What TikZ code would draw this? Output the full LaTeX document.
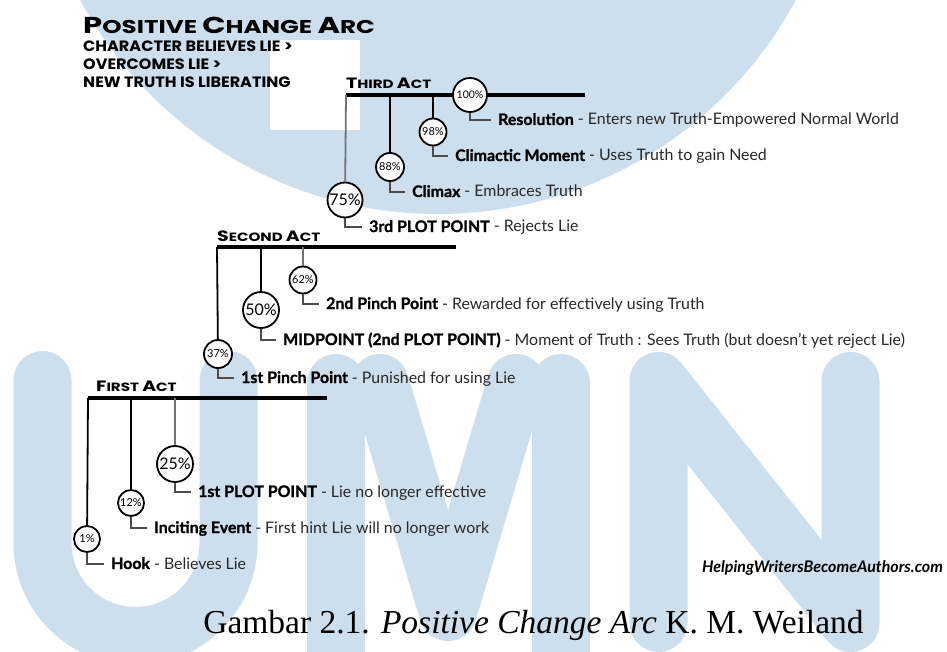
\documentclass[tikz,border=0pt]{standalone}
\usepackage{fontspec}
\setmainfont{Lato}[BoldFeatures={FakeBold=1.2}]
\newfontfamily\capsfont{Poppins}[FakeStretch=1.07]
\newfontfamily\widefont{Poppins}[FakeStretch=1.33]
\newfontfamily\actfont{Poppins}[FakeStretch=1.26]
\newfontfamily\captionfont{Liberation Serif}
\usepackage{xcolor}
\usepackage{tikz}
\usetikzlibrary{positioning}

\definecolor{umnblue}{RGB}{205,222,237}
\definecolor{desc}{RGB}{40,40,40}

% small caps faked with two sizes
\newcommand{\titlecap}[2]{{\fontsize{23}{23}\selectfont #1}#2}
\newcommand{\actcap}[2]{{\fontsize{15}{15}\selectfont #1}#2}
\newcommand{\beat}[2]{{\color{black}\bfseries #1} - #2}

\begin{document}
\begin{tikzpicture}[x=1pt, y=-1pt,
  wmline/.style={draw=umnblue, line width=58pt, line cap=round, line join=round},
  pct/.style={draw, circle, line width=1.8pt, fill=white, inner sep=0pt, font=\fontsize{11}{11}\selectfont},
  bigpct/.style={pct, font=\fontsize{16}{16}\selectfont},
  lbl/.style={anchor=west, inner xsep=7pt, inner ysep=0pt, text height=10pt, text depth=0pt, font=\fontsize{15.9}{15.9}\selectfont, text=desc},
  actbar/.style={line width=3.2pt},
  drop/.style={line width=1.8pt},
  dropg/.style={drop, draw=black!55},
  link/.style={line width=1.8pt, draw=black!70},
  actlbl/.style={anchor=base west, inner sep=0pt, font=\actfont\bfseries\fontsize{12}{12}\selectfont},
  head/.style={anchor=base west, inner sep=0pt, font=\capsfont\bfseries\fontsize{15}{15}\selectfont}
]
\useasboundingbox (0,0) rectangle (947,652);

% watermark
\begin{scope}
\clip (0,0) rectangle (947,652);
\fill[umnblue] (438,-192) circle (406);
\fill[white] (270,40) rectangle (360,130);
\draw[wmline] (42.5,380) -- (42.5,543) arc (180:0:93) -- (228.5,380);
\draw[wmline] (336,700) -- (336,383);
\draw[wmline] (380,383) -- (448,612) -- (516,383);
\draw[wmline] (561,383) -- (561,700);
\draw[wmline] (658.5,623) -- (658.5,381) -- (850.5,623) -- (850.5,381);
\end{scope}

% heading
\node[anchor=base west, inner sep=0pt, font=\widefont\bfseries\fontsize{18.5}{18.5}\selectfont] (title) at (83,34)
  {\titlecap{P}{OSITIVE} \titlecap{C}{HANGE} \titlecap{A}{RC}};
\node[head] (sub1) at (83,52) {CHARACTER BELIEVES LIE >};
\node[head] (sub2) at (83,70) {OVERCOMES LIE >};
\node[head] (sub3) at (83,88) {NEW TRUTH IS LIBERATING};

% third act
\node[actlbl] (act3) at (346,89) {\actcap{T}{HIRD} \actcap{A}{CT}};
\coordinate (t3s) at (346,95);
\coordinate (t3e) at (585,95);
\draw[actbar] (t3s) -- (t3e);
\node[bigpct, minimum size=35pt] (c75) at (345,200) {75\%};
\node[pct, minimum size=28pt] (c88) at (390,167) {88\%};
\node[pct, minimum size=27pt] (c98) at (433,132) {98\%};
\node[pct, minimum size=34pt, font=\fontsize{10.5}{10.5}\selectfont] (c100) at (470,95) {100\%};
\draw[dropg] (t3s) -- (c75);
\draw[drop] (c88 |- t3s) -- (c88);
\draw[drop] (c98 |- t3s) -- (c98);
\node[lbl] (l75) at (362,227) {\beat{3rd PLOT POINT}{Rejects Lie}};
\node[lbl] (l88) at (405,192) {\beat{Climax}{Embraces Truth}};
\node[lbl] (l98) at (448,156) {\beat{Climactic Moment}{Uses Truth to gain Need}};
\node[lbl] (l100) at (491,120) {\beat{Resolution}{Enters new Truth-Empowered Normal World}};
\draw[link] (c75.south) |- (l75.west);
\draw[link] (c88.south) |- (l88.west);
\draw[link] (c98.south) |- (l98.west);
\draw[link] (c100.south) |- (l100.west);

% second act
\node[actlbl] (act2) at (217,242) {\actcap{S}{ECOND} \actcap{A}{CT}};
\coordinate (t2s) at (217,247);
\coordinate (t2e) at (456,247);
\draw[actbar] (t2s) -- (t2e);
\node[pct, minimum size=28pt] (c37) at (218,354) {37\%};
\node[bigpct, minimum size=36pt] (c50) at (261,310) {50\%};
\node[pct, minimum size=27pt] (c62) at (303,280) {62\%};
\draw[drop] (t2s) -- (c37);
\draw[drop] (c50 |- t2s) -- (c50);
\draw[dropg] (c62 |- t2s) -- (c62);
\node[lbl] (l37) at (234,378) {\beat{1st Pinch Point}{Punished for using Lie}};
\node[lbl] (l50) at (276,340) {\beat{MIDPOINT (2nd PLOT POINT)}{Moment of Truth : Sees Truth (but doesn't yet reject Lie)}};
\node[lbl] (l62) at (319,304) {\beat{2nd Pinch Point}{Rewarded for effectively using Truth}};
\draw[link] (c37.south) |- (l37.west);
\draw[link] (c50.south) |- (l50.west);
\draw[link] (c62.south) |- (l62.west);

% first act
\node[actlbl] (act1) at (96,391) {\actcap{F}{IRST} \actcap{A}{CT}};
\coordinate (t1s) at (88,398);
\coordinate (t1e) at (327,398);
\draw[actbar] (t1s) -- (t1e);
\node[pct, minimum size=26pt] (c1) at (87,539) {1\%};
\node[pct, minimum size=26pt] (c12) at (131,503) {12\%};
\node[bigpct, minimum size=36pt] (c25) at (175,464) {25\%};
\draw[drop] (t1s) -- (c1);
\draw[drop] (c12 |- t1s) -- (c12);
\draw[dropg] (c25 |- t1s) -- (c25);
\node[lbl] (l1) at (104,564) {\beat{Hook}{Believes Lie}};
\node[lbl] (l12) at (147,528) {\beat{Inciting Event}{First hint Lie will no longer work}};
\node[lbl] (l25) at (191,492) {\beat{1st PLOT POINT}{Lie no longer effective}};
\draw[link] (c1.south) |- (l1.west);
\draw[link] (c12.south) |- (l12.west);
\draw[link] (c25.south) |- (l25.west);

% source and caption
\node[anchor=base east, inner sep=0pt, font=\bfseries\itshape\fontsize{16}{16}\selectfont] (site) at (943,572) {HelpingWritersBecomeAuthors.com};
\node[anchor=base, inner sep=0pt, font=\captionfont\fontsize{33.5}{33.5}\selectfont] (caption) at (533.5,633) {Gambar 2.1. \textit{Positive Change Arc} K. M. Weiland};
\end{tikzpicture}
\end{document}
